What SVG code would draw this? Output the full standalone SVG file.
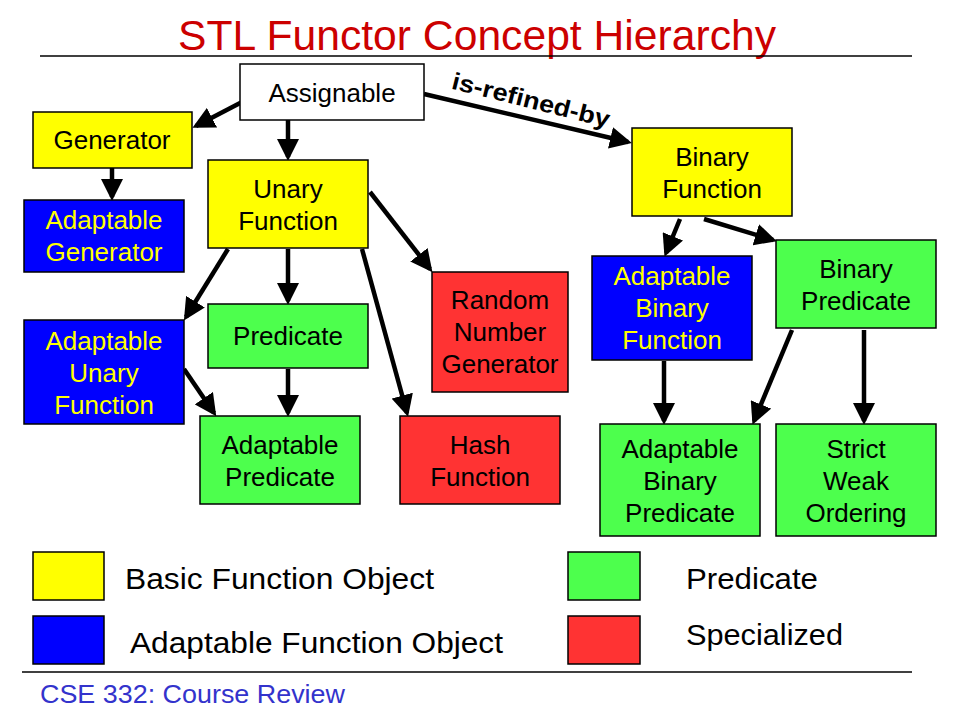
<svg xmlns="http://www.w3.org/2000/svg" width="960" height="720" viewBox="0 0 960 720">
<defs>
<marker id="ah" markerUnits="userSpaceOnUse" markerWidth="22" markerHeight="22" viewBox="0 0 22 22" refX="18" refY="11" orient="auto">
<path d="M0,0 L22,11 L0,22 z" fill="#000"/>
</marker>
<style>
.box{stroke:#000;stroke-width:1.5}
.y{fill:#FFFF00}
.b{fill:#0000FF}
.g{fill:#4DFF4D}
.r{fill:#FF3333}
.w{fill:#FFFFFF}
text{font-family:"Liberation Sans",Arial,sans-serif}
.t{font-size:26px;text-anchor:middle;fill:#000}
.ty{font-size:26px;text-anchor:middle;fill:#FFFF00}
.leg{font-size:30px;fill:#000}
.c line{stroke:#000;stroke-width:4.5;marker-end:url(#ah)}
</style>
</defs>
<rect width="960" height="720" fill="#fff"/>
<text x="477" y="50" font-size="43" text-anchor="middle" fill="#CC0000" textLength="598" lengthAdjust="spacingAndGlyphs">STL Functor Concept Hierarchy</text>
<line x1="40" y1="56" x2="912" y2="56" stroke="#000" stroke-width="1.5"/>

<g class="c" id="connectors">
<line x1="242" y1="102" x2="196" y2="126"/>
<line x1="288" y1="120" x2="288" y2="157"/>
<line x1="424" y1="94" x2="628" y2="142"/>
<line x1="112" y1="168" x2="112" y2="197"/>
<line x1="228" y1="249" x2="186" y2="317"/>
<line x1="288" y1="249" x2="288" y2="301"/>
<line x1="370" y1="192" x2="430" y2="269"/>
<line x1="362" y1="249" x2="407" y2="413"/>
<line x1="288" y1="369" x2="288" y2="413"/>
<line x1="184" y1="369" x2="214" y2="413"/>
<line x1="680" y1="219" x2="666" y2="253"/>
<line x1="704" y1="219" x2="773" y2="240"/>
<line x1="664" y1="361" x2="664" y2="421"/>
<line x1="792" y1="330" x2="754" y2="421"/>
<line x1="864" y1="330" x2="864" y2="421"/>
<text x="529" y="108" font-size="24" font-weight="bold" text-anchor="middle" fill="#000" textLength="162" lengthAdjust="spacingAndGlyphs" transform="rotate(14 529 108)">is-refined-by</text>
</g>

<g id="assignable"><rect class="box w" x="240" y="64" width="184" height="56"/><text class="t" x="332" y="102">Assignable</text></g>
<g id="generator"><rect class="box y" x="33" y="112" width="159" height="56"/><text class="t" x="112" y="149">Generator</text></g>
<g id="unary-function"><rect class="box y" x="208" y="160" width="160" height="88"/><text class="t" x="288" y="198">Unary</text><text class="t" x="288" y="230">Function</text></g>
<g id="adaptable-generator"><rect class="box b" x="24" y="200" width="160" height="72"/><text class="ty" x="104" y="229">Adaptable</text><text class="ty" x="104" y="261">Generator</text></g>
<g id="adaptable-unary-function"><rect class="box b" x="24" y="320" width="160" height="104"/><text class="ty" x="104" y="350">Adaptable</text><text class="ty" x="104" y="382">Unary</text><text class="ty" x="104" y="414">Function</text></g>
<g id="predicate"><rect class="box g" x="208" y="304" width="160" height="64"/><text class="t" x="288" y="345">Predicate</text></g>
<g id="adaptable-predicate"><rect class="box g" x="200" y="416" width="160" height="88"/><text class="t" x="280" y="454">Adaptable</text><text class="t" x="280" y="486">Predicate</text></g>
<g id="random-number-generator"><rect class="box r" x="432" y="272" width="136" height="120"/><text class="t" x="500" y="309">Random</text><text class="t" x="500" y="341">Number</text><text class="t" x="500" y="373">Generator</text></g>
<g id="hash-function"><rect class="box r" x="400" y="416" width="160" height="88"/><text class="t" x="480" y="454">Hash</text><text class="t" x="480" y="486">Function</text></g>
<g id="binary-function"><rect class="box y" x="632" y="128" width="160" height="88"/><text class="t" x="712" y="166">Binary</text><text class="t" x="712" y="198">Function</text></g>
<g id="adaptable-binary-function"><rect class="box b" x="592" y="256" width="160" height="104"/><text class="ty" x="672" y="285">Adaptable</text><text class="ty" x="672" y="317">Binary</text><text class="ty" x="672" y="349">Function</text></g>
<g id="binary-predicate"><rect class="box g" x="776" y="240" width="160" height="88"/><text class="t" x="856" y="278">Binary</text><text class="t" x="856" y="310">Predicate</text></g>
<g id="adaptable-binary-predicate"><rect class="box g" x="600" y="424" width="160" height="112"/><text class="t" x="680" y="458">Adaptable</text><text class="t" x="680" y="490">Binary</text><text class="t" x="680" y="522">Predicate</text></g>
<g id="strict-weak-ordering"><rect class="box g" x="776" y="424" width="160" height="112"/><text class="t" x="856" y="458">Strict</text><text class="t" x="856" y="490">Weak</text><text class="t" x="856" y="522">Ordering</text></g>

<g id="legend">
<rect class="box y" x="33" y="552" width="71" height="48"/>
<rect class="box b" x="33" y="616" width="71" height="48"/>
<rect class="box g" x="568" y="552" width="72" height="48"/>
<rect class="box r" x="568" y="616" width="72" height="48"/>
<text class="leg" x="125" y="589" textLength="309" lengthAdjust="spacingAndGlyphs">Basic Function Object</text>
<text class="leg" x="130" y="653" textLength="373" lengthAdjust="spacingAndGlyphs">Adaptable  Function Object</text>
<text class="leg" x="686" y="589" textLength="132" lengthAdjust="spacingAndGlyphs">Predicate</text>
<text class="leg" x="686" y="645" textLength="157" lengthAdjust="spacingAndGlyphs">Specialized</text>
</g>
<line x1="22" y1="672" x2="912" y2="672" stroke="#000" stroke-width="1.5"/>
<text x="40" y="703" font-size="26" fill="#3333CC" textLength="305" lengthAdjust="spacingAndGlyphs">CSE 332: Course Review</text>
</svg>
